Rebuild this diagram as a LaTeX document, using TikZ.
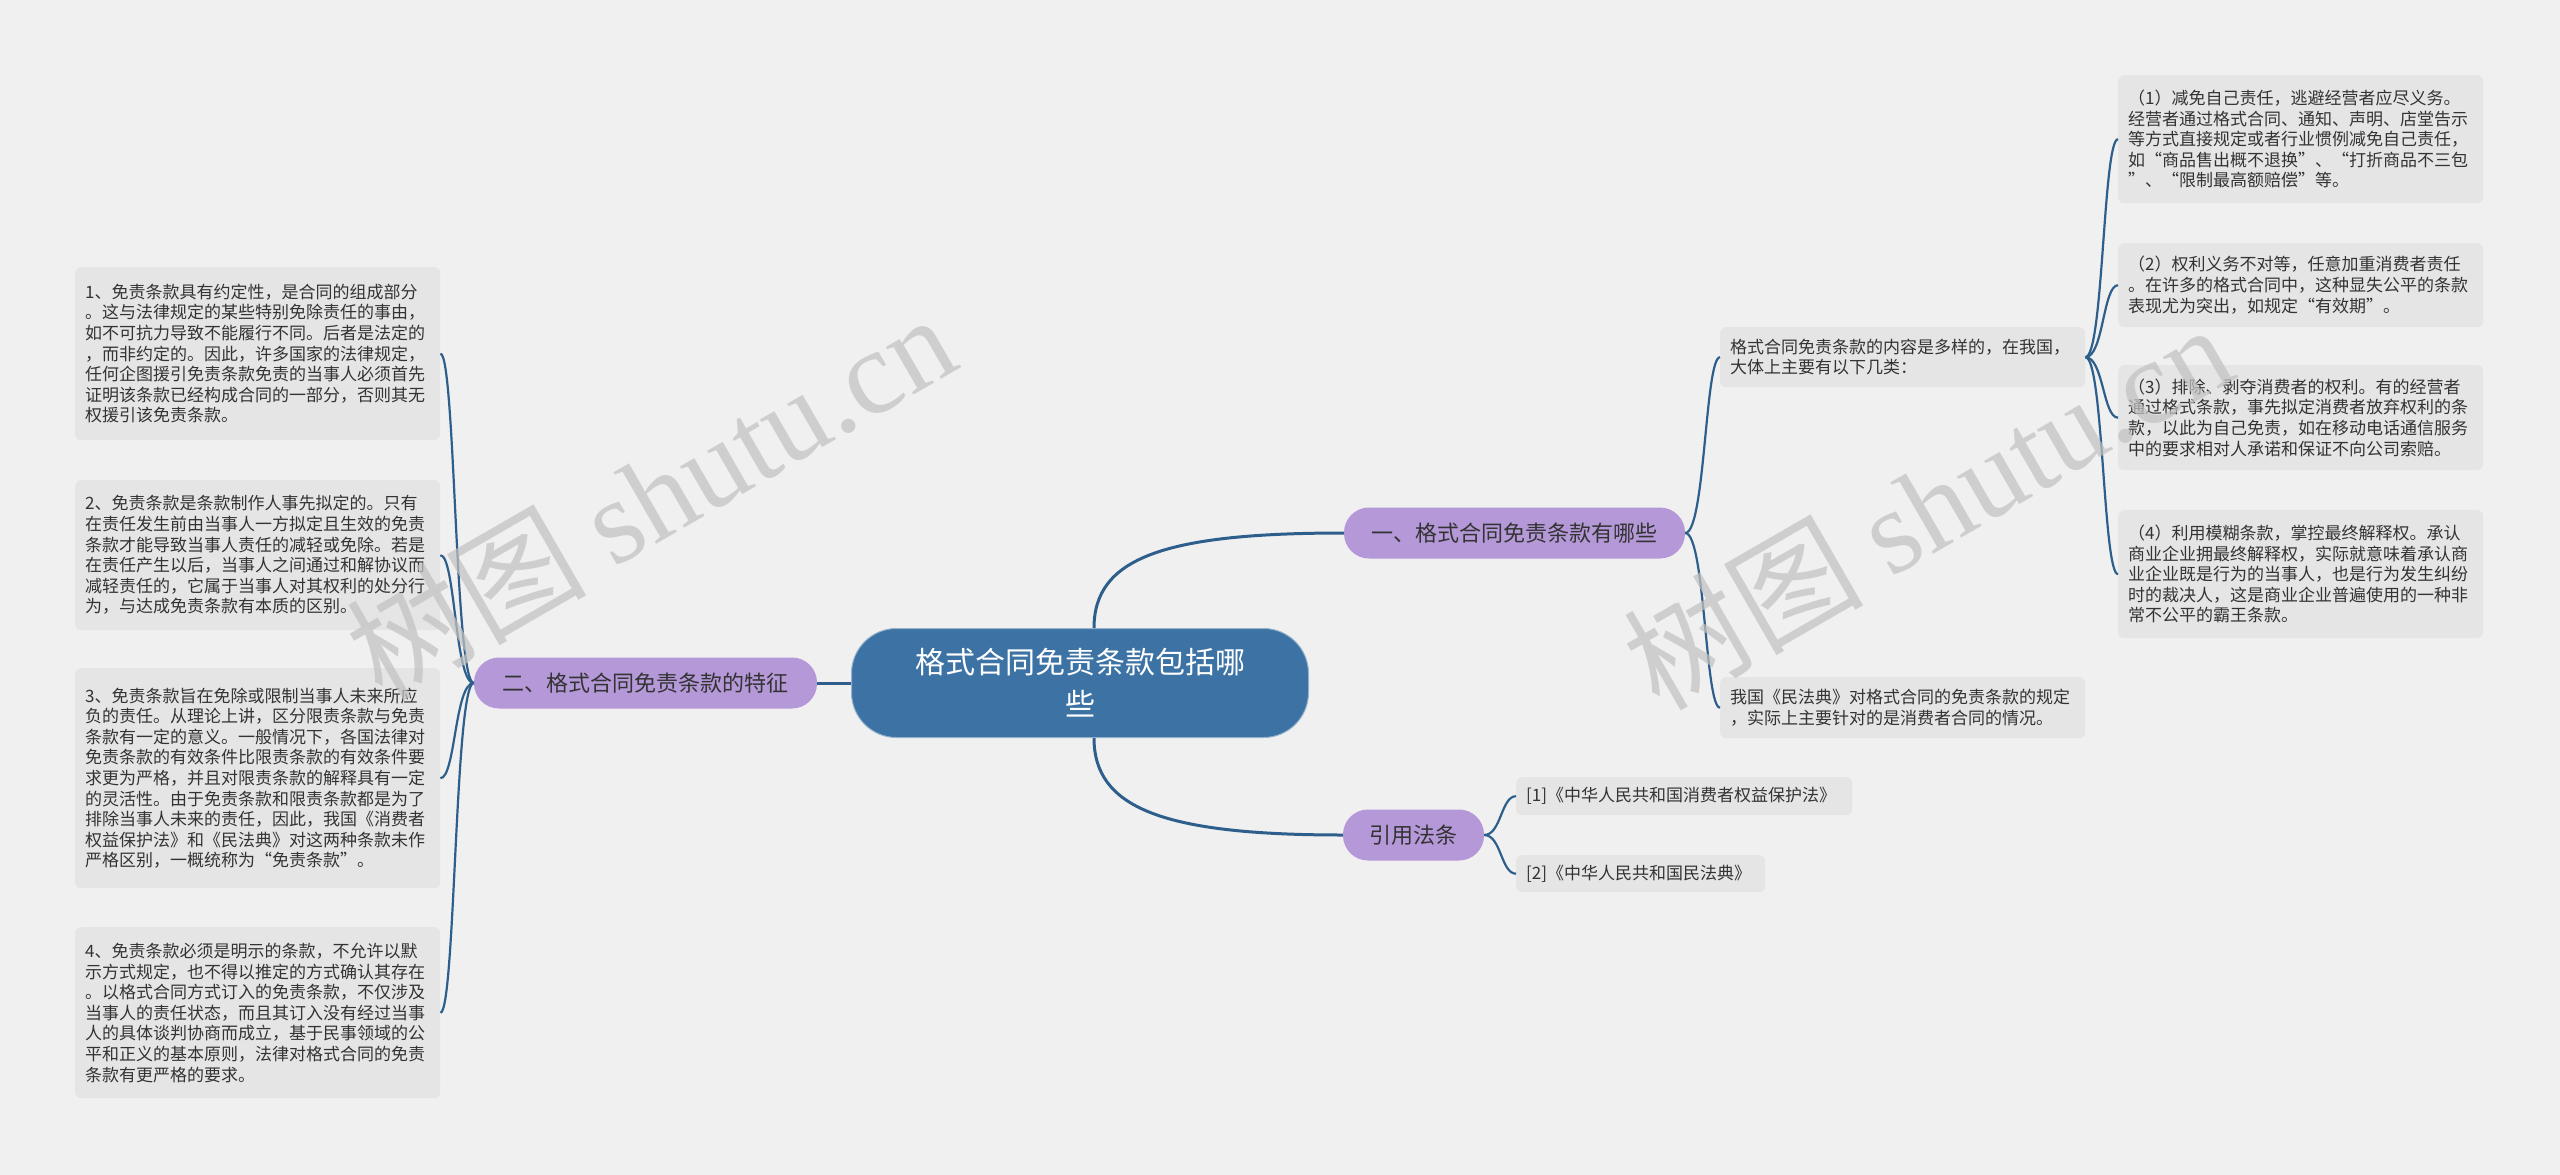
\documentclass[tikz,border=0pt]{standalone}
\usepackage{fontspec}
\setmainfont{Noto Sans CJK SC}
\newfontfamily\wmserif{Liberation Serif}
\definecolor{bgc}{HTML}{F0F0F0}
\definecolor{leafc}{HTML}{E5E5E5}
\definecolor{rootc}{HTML}{3C72A4}
\definecolor{purp}{HTML}{B598D8}
\definecolor{linec}{HTML}{2E5F8C}
\definecolor{txt}{HTML}{333333}
\definecolor{wmc}{HTML}{C2C2C2}
\begin{document}
\begin{tikzpicture}[x=1pt,y=-1pt,
  leaf/.style={fill=leafc, rounded corners=6pt, align=left, text=txt,
    inner xsep=10pt, inner ysep=4pt, anchor=north west,
    font=\fontsize{17}{20.6}\selectfont, text width=345pt, minimum width=365pt},
  cite/.style={leaf, font=\fontsize{17}{20}\selectfont},
  rootn/.style={fill=rootc, draw=rootc!55!white, line width=1pt, rounded corners=45pt,
    minimum width=457pt, minimum height=109pt, text=white, align=center,
    font=\fontsize{30}{42}\selectfont},
  branch/.style={fill=purp, rounded corners=25pt, minimum height=51pt, text=txt,
    font=\fontsize{22}{26}\selectfont},
  conn/.style={draw=linec, line width=2.2pt},
  mainc/.style={draw=linec, line width=3pt},
  wmark/.style={text=wmc, text opacity=0.72, font=\fontsize{120}{120}\selectfont}
]
\useasboundingbox (0,0) rectangle (2560,1175);
\fill[bgc] (0,0) rectangle (2560,1175);

% root and branches
\node[rootn] (root) at (1080,683) {格式合同免责条款包括哪\\些};
\node[branch, minimum width=341pt] (b1) at (1514.5,533) {一、格式合同免责条款有哪些};
\node[branch, minimum width=343pt] (b2) at (645.5,683) {二、格式合同免责条款的特征};
\node[branch, minimum width=141pt] (b3) at (1413.5,835) {引用法条};

% left leaves
\node[leaf, minimum height=173pt] (l1) at (75,267) {1、免责条款具有约定性，是合同的组成部分\\。这与法律规定的某些特别免除责任的事由，\\如不可抗力导致不能履行不同。后者是法定的\\，而非约定的。因此，许多国家的法律规定，\\任何企图援引免责条款免责的当事人必须首先\\证明该条款已经构成合同的一部分，否则其无\\权援引该免责条款。};
\node[leaf, minimum height=150pt] (l2) at (75,480) {2、免责条款是条款制作人事先拟定的。只有\\在责任发生前由当事人一方拟定且生效的免责\\条款才能导致当事人责任的减轻或免除。若是\\在责任产生以后，当事人之间通过和解协议而\\减轻责任的，它属于当事人对其权利的处分行\\为，与达成免责条款有本质的区别。};
\node[leaf, minimum height=220pt] (l3) at (75,668) {3、免责条款旨在免除或限制当事人未来所应\\负的责任。从理论上讲，区分限责条款与免责\\条款有一定的意义。一般情况下，各国法律对\\免责条款的有效条件比限责条款的有效条件要\\求更为严格，并且对限责条款的解释具有一定\\的灵活性。由于免责条款和限责条款都是为了\\排除当事人未来的责任，因此，我国《消费者\\权益保护法》和《民法典》对这两种条款未作\\严格区别，一概统称为“免责条款”。};
\node[leaf, minimum height=171pt] (l4) at (75,927) {4、免责条款必须是明示的条款，不允许以默\\示方式规定，也不得以推定的方式确认其存在\\。以格式合同方式订入的免责条款，不仅涉及\\当事人的责任状态，而且其订入没有经过当事\\人的具体谈判协商而成立，基于民事领域的公\\平和正义的基本原则，法律对格式合同的免责\\条款有更严格的要求。};

% right leaves
\node[leaf, minimum height=60pt] (ra) at (1720,327) {格式合同免责条款的内容是多样的，在我国，\\大体上主要有以下几类：};
\node[leaf, minimum height=61pt] (rb) at (1720,677) {我国《民法典》对格式合同的免责条款的规定\\，实际上主要针对的是消费者合同的情况。};
\node[leaf, minimum height=128pt] (r1) at (2118,75) {（1）减免自己责任，逃避经营者应尽义务。\\经营者通过格式合同、通知、声明、店堂告示\\等方式直接规定或者行业惯例减免自己责任，\\如“商品售出概不退换”、“打折商品不三包\\”、“限制最高额赔偿”等。};
\node[leaf, minimum height=84pt] (r2) at (2118,243) {（2）权利义务不对等，任意加重消费者责任\\。在许多的格式合同中，这种显失公平的条款\\表现尤为突出，如规定“有效期”。};
\node[leaf, minimum height=105pt] (r3) at (2118,365) {（3）排除、剥夺消费者的权利。有的经营者\\通过格式条款，事先拟定消费者放弃权利的条\\款，以此为自己免责，如在移动电话通信服务\\中的要求相对人承诺和保证不向公司索赔。};
\node[leaf, minimum height=128pt] (r4) at (2118,510) {（4）利用模糊条款，掌控最终解释权。承认\\商业企业拥最终解释权，实际就意味着承认商\\业企业既是行为的当事人，也是行为发生纠纷\\时的裁决人，这是商业企业普遍使用的一种非\\常不公平的霸王条款。};

% citations
\node[cite, minimum height=38pt, text width=316pt, minimum width=336pt] (c1) at (1516,777) {[1]《中华人民共和国消费者权益保护法》};
\node[cite, minimum height=37pt, text width=229pt, minimum width=249pt] (c2) at (1516,855) {[2]《中华人民共和国民法典》};

% connectors
\draw[mainc] (root.west) -- (b2.east);
\draw[mainc] ([xshift=14pt]root.north) .. controls +(0,-70) and +(-180,0) .. (b1.west);
\draw[mainc] ([xshift=14pt]root.south) .. controls +(0,70) and +(-180,0) .. (b3.west);
\foreach \n in {l1,l2,l3,l4}
  \draw[conn] (b2.west) .. controls +(-19,0) and +(15,0) .. (\n.east);
\foreach \n in {ra,rb}
  \draw[conn] (b1.east) .. controls +(20,0) and +(-15,0) .. (\n.west);
\foreach \n in {r1,r2,r3,r4}
  \draw[conn] (ra.east) .. controls +(18,0) and +(-15,0) .. (\n.west);
\foreach \n in {c1,c2}
  \draw[conn] (b3.east) .. controls +(17,0) and +(-15,0) .. (\n.west);

% watermarks
\node[wmark, rotate=30] (wm1) at (650,495) {树图 {\wmserif shutu.cn}};
\node[wmark, rotate=30] (wm2) at (1927,505) {树图 {\wmserif shutu.cn}};
\end{tikzpicture}
\end{document}
